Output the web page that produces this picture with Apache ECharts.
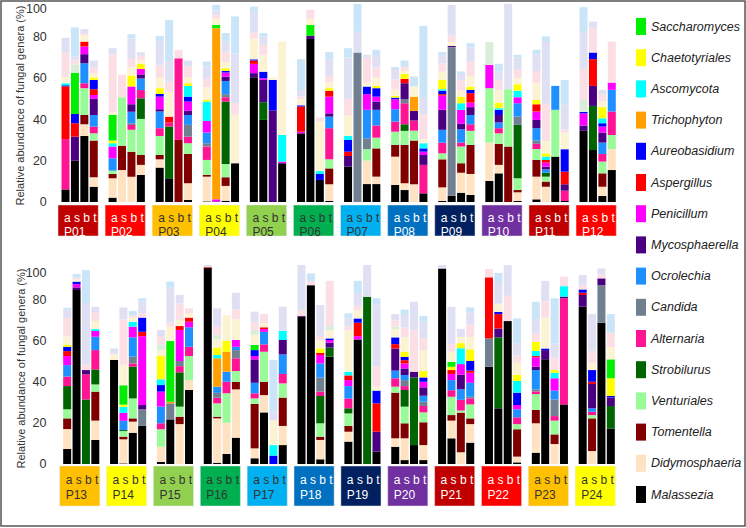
<!DOCTYPE html>
<html><head><meta charset="utf-8">
<script src="https://cdn.jsdelivr.net/npm/echarts@6/dist/echarts.min.js"></script>
<style>html,body{margin:0;padding:0;background:#fff}#c{width:746px;height:528px}</style>
</head><body><div id="c"></div>
<script>
// Participants (top panel P01-P12, bottom panel P13-P24), 4 samples each: a, s, b, t
const participants = ['P01','P02','P03','P04','P05','P06','P07','P08','P09','P10','P11','P12',
                      'P13','P14','P15','P16','P17','P18','P19','P20','P21','P22','P23','P24'];
const samples = ['a','s','b','t'];
const boxColors = ['#c00000','#ff0000','#ffc000','#ffff00','#92d050','#00b050','#00b0f0','#0070c0','#002060','#7030a0','#c00000','#ff0000',
                   '#ffc000','#ffff00','#92d050','#00b050','#00b0f0','#0070c0','#002060','#7030a0','#c00000','#ff0000','#ffc000','#ffff00'];
const boxText = ['#fff','#fff','#333','#333','#333','#333','#333','#fff','#fff','#fff','#fff','#fff',
                 '#333','#333','#333','#333','#333','#fff','#fff','#fff','#fff','#fff','#333','#333'];
const yTicks = [0,20,40,60,80,100];

// Relative abundance (%) per bar: P01a,P01s,P01b,P01t, P02a, ... P24t
const malassezia = [6.1,20,32,7.4, 2.1,0,0,13.1, 16.7,11.5,0,1, 0.3,0,0.6,18.8, 60.5,39.8,0,18.8, 33.3,79,10.7,0.5,
 17.2,0,8.7,8.7, 8.3,5.8,0,4.2, 0.5,3.1,4.5,3.4, 10.2,13.9,0,0.5, 1.3,0,22,0.5, 34.5,25.2,2.9,15.5,
 7.3,84.6,0,11.7, 50.6,0.3,15.2,18.6, 1,21.7,0,36, 95.5,0.6,4.9,12.8, 2.8,25.1,0,9.2, 71.6,87,2.3,52.2,
 10.9,60.6,0,6, 8.4,1.9,9.2,1.9, 95.1,12.5,0,10.4, 47.3,27.1,69.5,0.8, 5.5,50.9,0,29, 76.5,0,68.7,17.3];
const didymosphaeria = [0,0,5.7,4.6, 9.4,15.5,12.3,4.9, 4,0,0,8.1, 12,0,7.2,0, 0,0,0,0, 0,0,0,8.1,
 0,0,11.4,3.6, 13.7,3.3,8.6,0, 6.6,0,9.7,10.2, 18.6,4.1,0,4.2, 11,7.4,0,0, 0,0,4.5,10.2,
 9.7,0,0,9.4, 0,11.7,5.4,0, 7.4,0,19.4,4.8, 0,21.6,15.2,23.5, 4.8,8.4,0,9.3, 0,0,9.4,0,
 4.8,0,0,0, 4.1,10.6,0,7.3, 0,8.6,5.7,9, 0,0,0,2.8, 14.3,0,9.7,0, 0,6.3,0,0];
const tomentella = [0,0,4.5,17.8, 2.1,11.8,12.1,4.8, 2.1,0,30.1,14.2, 0.8,0,4.2,0, 0,0,0,0, 0,0,0,7.7,
 0,0,0,13.7, 5.7,18.6,21.2,0, 13.6,0,4.6,14.1, 0,10.2,26.9,1.1, 8.1,2.5,0,0, 0,0,6.5,0,
 5.2,0,0,14.1, 0,1.3,1.6,0, 0,0,3.6,0, 0,0.8,0,3.7, 21.6,6.5,0,13.8, 0,0,1.6,0,
 2.8,0,0,0, 22.2,7.3,0,11.1, 0,2.7,19.3,2.8, 0,0,0,13.3, 6.5,0,4.7,0, 0,15.9,0,0];
const venturiales = [0,0,13,3.5, 1.6,23.5,10.6,17.5, 9.2,0,0,5.2, 7.3,0,6.4,0, 0,0,0,0, 0,0,0,4.4,
 0,0,5.5,5.2, 6.4,6.8,4.8,0, 2.9,0,8.1,6.8, 26.4,5.1,27.8,5.7, 5.3,2.4,22.7,0, 0,0,5.7,6.8,
 4.4,0,0,3.5, 0,2.7,9.7,0, 8.5,0,4.9,11.7, 0,6.5,14.3,5.2, 2.7,14.6,0,6.9, 0,0,6.5,0,
 6.1,0,0,0, 2.9,8.1,0,4.8, 0,8.9,1,6.8, 0,0,0,2.5, 7.7,0,6.7,0, 0,1.6,0,0];
const strobilurus = [0,0,0,0, 0,0,0,10, 0,25.1,0,0, 0,0,30.3,0, 0,8.6,0,0, 0,0,0,0,
 0,0,0,0, 0,3.2,0,0, 0,0,0,0, 0,0,0,25.9, 0,1.9,0,0, 0,21.4,0,0,
 11.3,0,31.4,7.3, 0,0.5,15.4,0, 0,0,16.7,0, 0,0,0,0, 0,0,0,0, 0,0,13.3,4.4,
 2.5,0,81.4,0, 0,8.1,32.9,0, 0,0,0,0, 0,34.5,0,0, 0,0,0,0, 0,0,0,10.9];
const alternaria = [24.4,0,2.4,3.3, 0,0,2.4,4, 3.8,1.9,39.6,3.2, 6.5,0,2.1,0, 0,0,0,0, 0,0,0,15.1,
 0,0,0,5.9, 4.9,10.2,4.9,13.8, 5.2,0,1.9,3.2, 0,2.5,0,0, 2.5,0,0,5, 0,0,3.7,11.4,
 4.6,0,12.2,9.4, 0,0,1.6,0, 2.9,0,3,4.5, 0,2.7,5.6,6.2, 2.5,3.6,0,4.6, 0,0,2.1,0,
 4.8,0,0,0, 4.1,1.9,0,3.1, 0,3.2,5.2,2.9, 0,0,0,3.3, 1.3,0,2.2,51.6, 0,1.6,0,0];
const candida = [0,0,0,0, 0,0,0.8,0, 0,0,0,5.7, 1.6,0,1.5,0, 0,0,0,0, 0,0,0,0,
 0,72.5,5.3,0, 0,1.9,0,0, 0,72,0,0, 0,0,0,4, 1.6,0,0,0, 0,0,0,0,
 0,0,0,0, 0,0,3.3,8, 0,7.8,2.5,0, 0,2.4,0,4, 0,0,0,0, 0,0,6.8,0,
 0,0,0,0, 0,2.9,0,2.1, 0,0,0,0.8, 13.8,0,0,0, 1,0,8.1,0, 0,0,18.3,0];
const ocrolechia = [0,0,9.7,5.6, 6,0,5.6,5.6, 8.1,0,0,4.8, 5.2,0,6.4,0, 0,0,0,0, 0,0,0,5.6,
 0,0,13.8,7.6, 6,0,0,0, 6.2,0,6.5,4.5, 0,2.8,0,6.5, 6,1.6,11.6,0, 0,0,5.5,10.5,
 5.6,0,0,6.5, 0,4.5,9.4,0, 8.1,0,0,9.5, 0,3,4.9,1.6, 5.1,6.1,0,9.5, 0,0,6.9,0,
 6,0,0,0, 3.7,2.5,0,2.9, 0,4.9,5.2,6.8, 0,0,0,3.9, 9.4,0,4.3,0, 0,1.7,0,0];
const mycosphaerella = [0,11.7,4.4,7.8, 0,0,3.6,2, 1.1,0,0,2, 0,0.3,2.1,0, 2,10.8,44.5,0, 0,1.6,0,1.6,
 5.1,0,0,4, 0,7.8,4.7,4.8, 9.7,0.6,2.6,3.8, 0,3.6,0,0, 4,1.3,0,3.1, 2.6,9.7,4.9,0,
 0,1.3,2.1,0, 0,0,0,2.1, 0,0,0,0, 0,0,0,0, 11.4,0,0,7, 0.5,0,0,2.4,
 0,0,0,9.7, 10.8,3.2,2.8,4.1, 0,0,7,0, 0,4.3,0,0, 1.6,4.5,0,0.8, 5.7,11.8,3.3,4.2];
const penicillum = [0,0,3.7,1.9, 5.7,0,8.6,2.6, 6.1,0,0,4.5, 5.6,1,2,0, 4.5,0.8,0,0.8, 0.8,0,0,8.1,
 0,0,7.6,2.4, 4.8,0,0,1.6, 6.9,0,6.8,2.2, 11.3,0,0,2.9, 4.1,2,0,0, 5.9,0,2.9,3.5,
 4.4,1.6,0,2.8, 0,3.9,5.2,33.5, 7.3,0,15.1,2.7, 0,0,0,3.3, 1.6,1.3,0,0, 0,0,4.1,1.3,
 2.9,1.6,0,0, 0,2.4,0,2.7, 0,3,5.2,4.9, 0,0,0,2.1, 4.6,0,6,0, 0,0,0,0];
const aspergillus = [25.6,6.5,2.4,2.8, 0,0,0,0, 0,2.9,0,0, 0,0,0,0, 1.6,0,0,0, 12.2,0,0,2.9,
 2.1,0,0,0, 0,2.1,0,0, 0.7,0,0,4.6, 0,0,0,0, 3.5,1.3,0,6.1, 0,13,0,0,
 2.4,0,0,0, 0,0,0,2.1, 0,0,1.9,2, 0.3,0,0,0, 0,0.9,0,0, 0,0,1.1,0,
 2.3,6.5,0,13.8, 2.1,1.6,0,0, 0,1.9,0,1, 29.7,7,0,0, 0.6,0,0,0, 1.1,1.1,0,0];
const aureobasidium = [0.5,4.5,0,4.5, 0,0,0,0, 1.3,0,0,2.4, 0,0,0.8,0, 0.6,3.2,14.7,0, 0.6,0,2.9,0,
 5.7,0,3.7,4.1, 0.8,0,0,1.6, 1.7,0,0,1.6, 0,2.5,0,0, 0,0,0,10.9, 0.7,3.2,1.6,0,
 2.1,1.2,0,0, 0,0,0,6.9, 3.2,0,0,0, 0,0,0,0, 2.9,0,4.1,0, 0,0,0,0.8,
 0,2.1,0,6.2, 3.3,1.6,0,2.1, 0,0,0,4.7, 0,1.1,0,6, 0,0.8,0,0, 1.6,5.7,0,0.7];
const trichophyton = [0,0,0,0, 0,0,0,0, 0,0,0,0, 0,83,0,0, 0,0,0,0, 0,0,0,0,
 0,0,0,0, 0,0,6.9,0, 0,0,0,0, 0,0,0,0, 0,0,0,0, 0,0,0,0,
 0,0,0,0, 0,0,0,0, 0,0.8,0,0, 0,13.8,9.7,0, 0,0,0,0, 0,0,0,0,
 0,0,0,0, 0,0,0,0, 0,0,0,0, 0,0,0,0, 0,0,0,0, 0,0,0,0];
const ascomycota = [1,0,0,0, 1.6,0,0,0, 0,0,0,5.2, 9.4,0,0,0, 0,0,0,12.9, 0,0,1.4,0,
 1.9,0,0,0, 0,0,0,2.5, 0.7,0,3.2,0, 0,0.8,0,3.2, 0,1.6,0,0, 0,0,2.4,0,
 0,0,0,0.9, 0,2.9,2.4,0, 2.8,0,0,0, 0,1.6,0,0, 0,0,5.1,4.5, 0,0,0,0,
 1.8,0,0,0, 0,0,0,0, 0,0,7.7,0, 0,0,0,5.7, 2.5,0,2.7,5.1, 0,0,0,0];
const chaetotyriales = [0,0,0,1.2, 1.3,0,5.3,2.4, 2.8,0,0,1.3, 1,0,1.3,0, 0,0,0,0, 0,0,0,1.2,
 0,0,0,1.1, 0.9,2.4,0,0, 4.5,0,3.2,1.6, 0,2.7,0,3.1, 2.1,1.6,0,0, 0,0,5.4,0,
 1,0,0,0, 0,1.1,0,0, 11.3,0,0,0, 0,3.7,5.4,0, 0,0,0,0, 0,0,2.1,0,
 0,0,0,0, 0,2.4,0,3.1, 0,1.6,2.5,5.7, 0,0,0,2.9, 4.5,0,1.3,0, 0,0,0,8.6];
const saccharomyces = [0,20,0,0, 12.4,0,0,0, 0,0,0,0, 0,1.6,0,0, 0,0,0,0, 0,5.3,0,0,
 0,0,0,0, 0,0,0,0, 0,0,0,0, 0,0,0,0, 0,0,0,0, 0,0,0,0,
 0,0,0,0, 0,9.4,0,0, 0,29.5,0,0, 0,0,0,0, 2.5,0,0,0, 0,0,0,0,
 0,0,0,0, 0,0,0,0, 0,2.4,0,0, 0,0,0,0, 0,0,0,0, 0,0,0,9.2];
// Other (unlabelled) genera, pale colours
const otherCream = [3,0,3,2, 1.4,0,4,2, 5,12,0,3, 6,3,3,23.5, 10,8,1.3,45.3, 3,3,24,3,
 10,0,2,4, 3,1.5,5,1.9, 4,1.9,3,5, 0,6,0,3, 8,6,0,8, 0,0,3,0,
 4,1,0,4, 3,10,2,0, 3,7,3,2, 0,4,12.4,10, 5,2,12,0, 0,0,4,4,
 20,4,0,1.9, 4,7,0,10, 0,5,3,6, 0,4,0,6, 0,15,0,0, 0,3.2,0,6];
const otherGreen = [0,4,0,0, 0,0,0,0, 0,0,0,0, 0,0,0,0, 0,0,0,0, 0,0,0,0,
 0,0,0,0, 0,0,0,0, 0,0,0,0, 11,0,0,0, 0,0,0,0, 5.8,0,0,0,
 0,0,0,0, 0,0,0,0, 2.7,0,0,0, 0,2,0,0, 2.2,0,0,0, 0,0,0,2,
 0,0,0,0, 1.3,0,0,0, 0,0,0,0, 0,0,0,0, 0,0,0,0, 0,0,0,0];
const otherPink = [12,2,1,3, 28,10.9,4,2, 6,4.9,4.1,5, 4,2,5,5.7, 3,5,0,0, 1.4,4.3,2,3,
 8,0,12,5, 5,2,0,12, 4,3,5,7, 0,5,0,4, 6,18,0,1.6, 15,12,3,19.9,
 9,1,2.6,4, 0,22,1,2, 4,2,8,2.5, 0,4,0,5, 4,4.4,0,0, 2.7,2,2.1,22,
 2,2.3,0,10, 3,5,20,6, 0,3.7,0,6, 4,0,12.3,3.5, 4,7.9,6,4.6, 2,6,2,7];
const otherLav = [7,2,2,3.2, 3,0,10,1.7, 12,10,0,3, 6,2,5,24, 10,4,0,0, 3,0,0,8,
 20,10,1.4,6, 5,0,0,8, 4,15,3,7, 0,4,41.4,6, 8,30,0,12, 18,3,2.4,0,
 4,0,30,2.9, 2.6,5.8,0,6, 3,17,4.1,0, 1,9,0,8, 5,0,4.4,11.7, 22,0,15,0,
 4,6,15.4,30, 3,6,14,8, 1.7,18,3.9,6, 0,10,15,6, 7,10,6.9,0, 5,18,2.8,0];
const otherBlue = [0,14,0,0, 0,0,2,0, 2.4,20,0,0, 2.4,2.7,4,18, 2.5,1.7,0,0, 15,0,0,3.5,
 4.6,13.6,0,2.5, 0.9,3,4.7,35, 1.5,0,1.2,2, 0,3.8,0,1.3, 2.3,2.7,0,12, 12,0,0,0,
 1,1.7,16,0, 0,0,2.2,1.4, 0,2.9,0,0, 0,0,0,0, 0,0,25,0, 0,3.7,0,0,
 2.4,6,0,3, 0,2.6,0,2.8, 0,0,0,2.4, 0,4.9,0,12, 8.4,0,22,0, 0,0,0,9];

// stacking order, bottom to top
const layers = [
  {name:'Malassezia', values:malassezia, color:'#000000'},
  {name:'Didymosphaeria', values:didymosphaeria, color:'#ffe2c2'},
  {name:'Tomentella', values:tomentella, color:'#800000'},
  {name:'Venturiales', values:venturiales, color:'#98fb98'},
  {name:'Strobilurus', values:strobilurus, color:'#006400'},
  {name:'Alternaria', values:alternaria, color:'#ff1493'},
  {name:'Candida', values:candida, color:'#708090'},
  {name:'Ocrolechia', values:ocrolechia, color:'#1e90ff'},
  {name:'Mycosphaerella', values:mycosphaerella, color:'#4b0082'},
  {name:'Penicillum', values:penicillum, color:'#ff00ff'},
  {name:'Aspergillus', values:aspergillus, color:'#ff0000'},
  {name:'Aureobasidium', values:aureobasidium, color:'#0000ff'},
  {name:'Trichophyton', values:trichophyton, color:'#ffa000'},
  {name:'Ascomycota', values:ascomycota, color:'#00ffff'},
  {name:'Chaetotyriales', values:chaetotyriales, color:'#ffff00'},
  {name:'Saccharomyces', values:saccharomyces, color:'#00ee00'},
  {name:'Other (cream)', values:otherCream, color:'#fcf3d3'},
  {name:'Other (green)', values:otherGreen, color:'#d9edd9'},
  {name:'Other (pink)', values:otherPink, color:'#fbdfe4'},
  {name:'Other (lavender)', values:otherLav, color:'#e0e0f4'},
  {name:'Other (blue)', values:otherBlue, color:'#c9e5f7'}
];
const legendNames = layers.slice(0,16).map(l => l.name).reverse();

function slotData(arr, g) {
  const out = [];
  for (let k = 0; k < 12; k++) {
    for (let j = 0; j < 4; j++) out.push(arr[g*48 + k*4 + j]);
    if (k < 11) out.push('-');
  }
  return out;
}
function slotNames(g) {
  const out = [];
  for (let k = 0; k < 12; k++) {
    samples.forEach(s => out.push(participants[g*12+k] + ' ' + s));
    if (k < 11) out.push('gap' + k);
  }
  return out;
}

const chart = echarts.init(document.getElementById('c'), null, {renderer:'svg'});
const series = [];
layers.forEach(L => {
  for (let g = 0; g < 2; g++) {
    series.push({type:'bar', name:L.name, xAxisIndex:g, yAxisIndex:g, stack:'st'+g,
      barWidth:8, clip:false, data:slotData(L.values, g),
      itemStyle:{color:L.color}, emphasis:{disabled:true}});
  }
});
const yName = 'Relative abundance of fungal genera (%)';
function yAxisCfg(max, gap, margin) {
  return {type:'value', min:0, max:max, interval:20,
    axisLine:{show:false}, axisTick:{show:false}, splitLine:{show:false},
    axisLabel:{color:'#333', fontSize:12.5, margin:margin, showMaxLabel:true,
      formatter: v => (v > 90 ? String(yTicks[5]) : String(v))},
    name:yName, nameLocation:'middle', nameRotate:90, nameGap:gap, nameMoveOverlap:false,
    nameTextStyle:{color:'#333', fontSize:11}};
}
chart.setOption({
  animation:false,
  backgroundColor:'#fff',
  grid:[{left:60.8, top:9, width:555.7, height:193, outerBoundsMode:'none', containLabel:false},
        {left:62.5, top:273, width:553, height:191, outerBoundsMode:'none', containLabel:false}],
  xAxis:[0,1].map(g => ({type:'category', gridIndex:g, data:slotNames(g),
    axisLine:{show:false}, axisTick:{show:false}, axisLabel:{show:false}})),
  yAxis:[Object.assign(yAxisCfg(93.6, 35, 14), {gridIndex:0}),
         Object.assign(yAxisCfg(92.9, 36.5, 16), {gridIndex:1})],
  legend:{data:legendNames, orient:'vertical', left:631, top:13, itemWidth:10, itemHeight:17,
    itemGap:14.2, icon:'rect', selectedMode:false,
    textStyle:{fontSize:12.5, fontStyle:'italic', color:'#222'}},
  series:series
});

const gfx = [{type:'rect', shape:{x:1, y:1, width:744, height:525},
  style:{fill:'none', stroke:'#555', lineWidth:1.5}, silent:true}];
participants.forEach((p, i) => {
  const g = i < 12 ? 0 : 1, k = i % 12;
  const xa = chart.convertToPixel({xAxisIndex:g}, k*5);
  const xt = chart.convertToPixel({xAxisIndex:g}, k*5+3);
  const left = xa - 7.5, right = xt + 4.5;
  const top = g ? 466 : 205, h = g ? 40 : 31;
  gfx.push({type:'rect', shape:{x:left, y:top, width:right-left, height:h},
    style:{fill:boxColors[i], stroke:'#e8e8e8', lineWidth:0.5}, silent:true});
  gfx.push({type:'text', x:left+6, y:top + (g ? 13.5 : 12.5),
    style:{text:samples.join(' '), fill:boxText[i], font:'12px "Liberation Sans", Arial, sans-serif', verticalAlign:'middle'}, silent:true});
  gfx.push({type:'text', x:left+6, y:top + (g ? 28.5 : 26.5),
    style:{text:p, fill:boxText[i], font:'12px "Liberation Sans", Arial, sans-serif', verticalAlign:'middle'}, silent:true});
});
chart.setOption({graphic:gfx});
</script>
</body></html>
